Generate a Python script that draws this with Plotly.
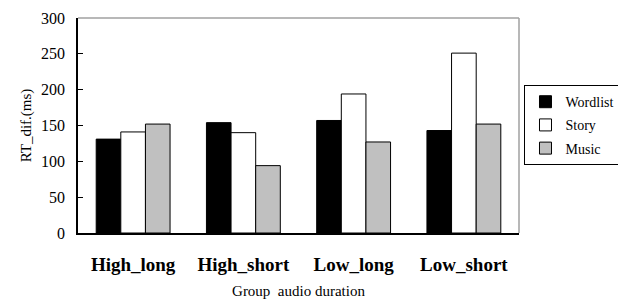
import plotly.graph_objects as go

categories = ["High_long", "High_short", "Low_long", "Low_short"]
wordlist = [131, 154, 157, 143]
story = [141, 140, 194, 251]
music = [152, 94, 127, 152]
y_ticks = [0, 50, 100, 150, 200, 250, 300]

SERIF = "Liberation Serif"

fig = go.Figure()
for name, vals, col, grp in [("Wordlist", wordlist, "#000000", "a"),
                             ("Story", story, "#ffffff", "b"),
                             ("Music", music, "#c0c0c0", "c")]:
    fig.add_trace(go.Bar(x=categories, y=vals, name=name, legendgroup=grp,
                         marker=dict(color=col, line=dict(color="#000000", width=1))))

W, H = 618, 302
L, R, T, B = 78, 98.5, 17.7, 68.7
pw = W - L - R
ph = H - T - B

fig.update_layout(
    width=W, height=H,
    margin=dict(l=L, r=R, t=T, b=B, pad=0, autoexpand=False),
    paper_bgcolor="white", plot_bgcolor="white",
    barmode="group", bargap=0.33, bargroupgap=0,
    font=dict(family=SERIF, color="#000000"),
    showlegend=True,
    legend=dict(x=(525 - L) / pw, y=(H - B - 85) / ph, xanchor="left", yanchor="top",
                bordercolor="#000000", borderwidth=1, bgcolor="white",
                font=dict(family=SERIF, size=14, color="#000000"),
                tracegroupgap=2, itemwidth=30),
    xaxis=dict(showline=True, linecolor="#000000", linewidth=1.5, showgrid=False,
               automargin=False,
               ticks="", ticklabelstandoff=13,
               tickfont=dict(family=SERIF, size=19, color="#000000", weight="bold"),
               title=dict(text="Group  audio duration", standoff=12,
                          font=dict(family=SERIF, size=15, color="#000000"))),
    yaxis=dict(range=[0, 300], tickvals=y_ticks, showline=True, linecolor="#000000",
               automargin=False,
               linewidth=1.5, showgrid=False, ticks="inside", ticklen=5,
               tickcolor="#000000", ticklabelstandoff=8, zeroline=False,
               tickfont=dict(family=SERIF, size=16, color="#000000"),
               title=dict(text="RT_dif.(ms)", standoff=6,
                          font=dict(family=SERIF, size=15, color="#000000"))),
    shapes=[
        dict(type="line", xref="paper", yref="paper", x0=0, x1=1, y0=1, y1=1,
             line=dict(color="#a0a0a0", width=1.5)),
        dict(type="line", xref="paper", yref="paper", x0=1, x1=1, y0=0, y1=1,
             line=dict(color="#a0a0a0", width=1.5)),
    ],
)

fig.write_html("out.html", config={"displayModeBar": False},
               post_script="document.body.style.margin='0';document.body.style.overflow='hidden';")
